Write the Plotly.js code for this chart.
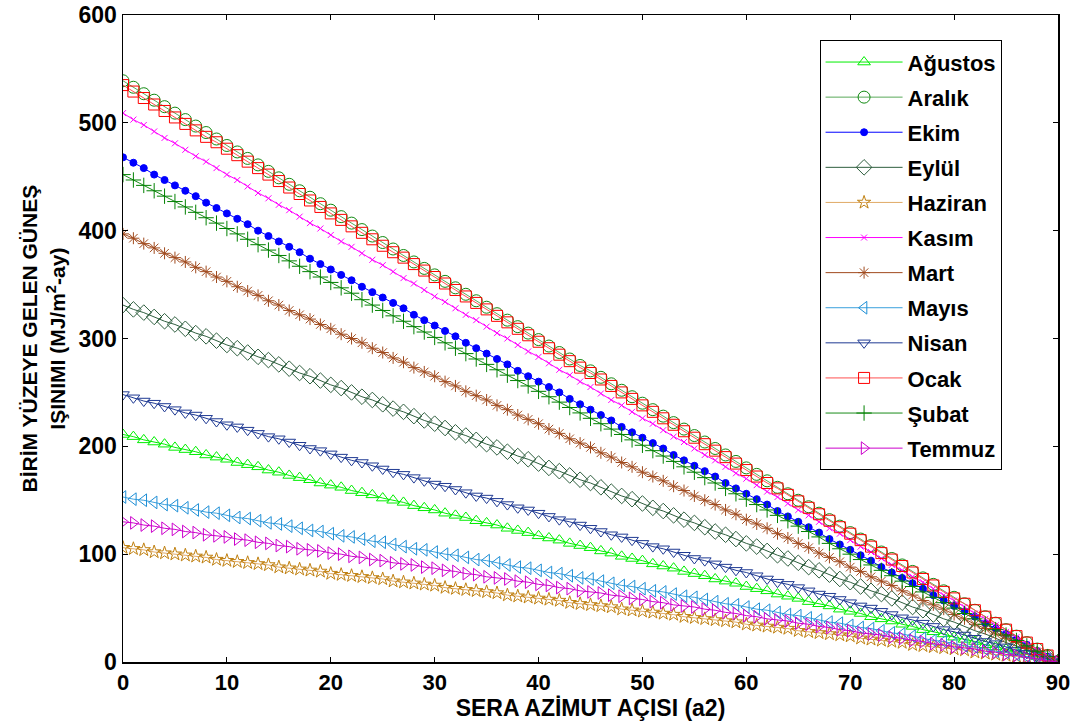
<!DOCTYPE html>
<html>
<head>
<meta charset="utf-8">
<script src="https://cdn.plot.ly/plotly-3.0.1.min.js"></script>
<style>html,body{margin:0;padding:0;background:#fff;}#chart{width:1089px;height:724px;}</style>
</head>
<body>
<div id="chart"></div>
<script>
// Sera azimut açısı (a2), derece
const azimut = [0,1,2,3,4,5,6,7,8,9,10,11,12,13,14,15,16,17,18,19,20,21,22,23,24,25,26,27,28,29,30,31,32,33,34,35,36,37,38,39,40,41,42,43,44,45,46,47,48,49,50,51,52,53,54,55,56,57,58,59,60,61,62,63,64,65,66,67,68,69,70,71,72,73,74,75,76,77,78,79,80,81,82,83,84,85,86,87,88,89,90];

const agustos = [211,209,206,204,202,199,197,195,192,190,188,185,183,181,178,176,173,171,169,166,164,162,159,157,155,152,150,148,145,143,141,138,136,134,131,129,127,124,122,120,117,115,113,110,108,106,103,101,98,96,94,91,89,87,84,82,80,77,75,73,70,68,66,63,61,59,56,54,52,49,47,45,42,40,38,35,33,30,28,26,23,21,19,16,14,12,9,7,5,2,0];
const aralik = [539,533,527,521,515,509,503,497,491,485,479,473,467,461,455,449,443,437,431,425,419,413,407,401,395,389,383,377,371,365,359,353,347,341,335,329,323,317,311,305,299,293,287,281,275,270,264,258,252,246,240,234,228,222,216,210,204,198,192,186,180,174,168,162,156,150,144,138,132,126,120,114,108,102,96,90,84,78,72,66,60,54,48,42,36,30,24,18,12,6,0];
const ekim = [468,463,458,452,447,442,437,432,426,421,416,411,406,400,395,390,385,380,374,369,364,359,354,348,343,338,333,328,322,317,312,307,302,296,291,286,281,276,270,265,260,255,250,244,239,234,229,224,218,213,208,203,198,192,187,182,177,172,166,161,156,151,146,140,135,130,125,120,114,109,104,99,94,88,83,78,73,68,62,57,52,47,42,36,31,26,21,16,10,5,0];
const eylul = [331,327,324,320,316,313,309,305,302,298,294,291,287,283,280,276,272,268,265,261,257,254,250,246,243,239,235,232,228,224,221,217,213,210,206,202,199,195,191,188,184,180,177,173,169,166,162,158,154,151,147,143,140,136,132,129,125,121,118,114,110,107,103,99,96,92,88,85,81,77,74,70,66,63,59,55,51,48,44,40,37,33,29,26,22,18,15,11,7,4,0];
const haziran = [106,105,104,102,101,100,99,98,97,95,94,93,92,91,90,88,87,86,85,84,82,81,80,79,78,77,75,74,73,72,71,69,68,67,66,65,64,62,61,60,59,58,57,55,54,53,52,51,49,48,47,46,45,44,42,41,40,39,38,37,35,34,33,32,31,29,28,27,26,25,24,22,21,20,19,18,16,15,14,13,12,11,9,8,7,6,5,4,2,1,0];
const kasim = [509,503,498,492,486,481,475,469,464,458,452,447,441,435,430,424,419,413,407,402,396,390,385,379,373,368,362,356,351,345,339,334,328,322,317,311,305,300,294,288,283,277,271,266,260,255,249,243,238,232,226,221,215,209,204,198,192,187,181,175,170,164,158,153,147,141,136,130,124,119,113,107,102,96,90,85,79,74,68,62,57,51,45,40,34,28,23,17,11,6,0];
const mart = [397,393,388,384,379,375,371,366,362,357,353,348,344,340,335,331,326,322,318,313,309,304,300,296,291,287,282,278,273,269,265,260,256,251,247,243,238,234,229,225,221,216,212,207,203,199,194,190,185,181,176,172,168,163,159,154,150,146,141,137,132,128,124,119,115,110,106,101,97,93,88,84,79,75,71,66,62,57,53,49,44,40,35,31,26,22,18,13,9,4,0];
const mayis = [153,151,150,148,146,145,143,141,139,138,136,134,133,131,129,128,126,124,122,121,119,117,116,114,112,111,109,107,105,104,102,100,99,97,95,94,92,90,88,87,85,83,82,80,78,77,75,73,71,70,68,66,65,63,61,60,58,56,54,53,51,49,48,46,44,43,41,39,37,36,34,32,31,29,27,26,24,22,20,19,17,15,14,12,10,9,7,5,3,2,0];
const nisan = [248,245,242,240,237,234,231,229,226,223,220,218,215,212,209,207,204,201,198,196,193,190,187,185,182,179,176,174,171,168,165,163,160,157,154,152,149,146,143,141,138,135,132,130,127,124,121,118,116,113,110,107,105,102,99,96,94,91,88,85,83,80,77,74,72,69,66,63,61,58,55,52,50,47,44,41,39,36,33,30,28,25,22,19,17,14,11,8,6,3,0];
const ocak = [535,529,523,517,511,505,499,493,487,482,476,470,464,458,452,446,440,434,428,422,416,410,404,398,392,386,380,375,369,363,357,351,345,339,333,327,321,315,309,303,297,291,285,279,273,268,262,256,250,244,238,232,226,220,214,208,202,196,190,184,178,172,166,161,155,149,143,137,131,125,119,113,107,101,95,89,83,77,71,65,59,54,48,42,36,30,24,18,12,6,0];
const subat = [452,447,442,437,432,427,422,417,412,407,402,397,392,387,382,377,372,367,362,357,352,347,342,336,331,326,321,316,311,306,301,296,291,286,281,276,271,266,261,256,251,246,241,236,231,226,221,216,211,206,201,196,191,186,181,176,171,166,161,156,151,146,141,136,131,126,121,116,110,105,100,95,90,85,80,75,70,65,60,55,50,45,40,35,30,25,20,15,10,5,0];
const temmuz = [130,129,127,126,124,123,121,120,118,117,116,114,113,111,110,108,107,105,104,103,101,100,98,97,95,94,92,91,90,88,87,85,84,82,81,79,78,77,75,74,72,71,69,68,66,65,64,62,61,59,58,56,55,53,52,51,49,48,46,45,43,42,40,39,38,36,35,33,32,30,29,27,26,25,23,22,20,19,17,16,14,13,12,10,9,7,6,4,3,1,0];

const xTickVals = [0,10,20,30,40,50,60,70,80,90];
const yTickVals = [0,100,200,300,400,500,600];
const xTitle = 'SERA AZİMUT AÇISI (a2)';
const yTitle = 'BİRİM YÜZEYE GELEN GÜNEŞ<br>IŞINIMI (MJ/m<sup>2</sup>-ay)';

const seriesDefs = [
  {name:'Ağustos', y:agustos, color:'#00ee00', lineColor:'#00ee00', symbol:'triangle-up-open', size:11},
  {name:'Aralık',  y:aralik,  color:'#108a10', lineColor:'#5aaa5a', symbol:'circle-open', size:12},
  {name:'Ekim',    y:ekim,    color:'#0000ff', lineColor:'#0000ff', symbol:'circle', size:7},
  {name:'Eylül',   y:eylul,   color:'#2e5e3e', lineColor:'#2e5e3e', symbol:'diamond-open', size:12},
  {name:'Haziran', y:haziran, color:'#c08010', lineColor:'#e0aa66', symbol:'star-open', size:10},
  {name:'Kasım',   y:kasim,   color:'#ff00ff', lineColor:'#ff00ff', symbol:'x-thin-open', size:6},
  {name:'Mart',    y:mart,    color:'#a04a1e', lineColor:'#a04a1e', symbol:'asterisk-open', size:10},
  {name:'Mayıs',   y:mayis,   color:'#1e8fd6', lineColor:'#3aa0dd', symbol:'triangle-left-open', size:11},
  {name:'Nisan',   y:nisan,   color:'#1f3a93', lineColor:'#1f3a93', symbol:'triangle-down-open', size:11},
  {name:'Ocak',    y:ocak,    color:'#ff0000', lineColor:'#ff5050', symbol:'square-open', size:11},
  {name:'Şubat',   y:subat,   color:'#008000', lineColor:'#1a8c1a', symbol:'cross-thin-open', size:11},
  {name:'Temmuz',  y:temmuz,  color:'#cc00cc', lineColor:'#cc00cc', symbol:'triangle-right-open', size:11}
];

const traces = seriesDefs.map((s, i) => ({
  type:'scatter', mode:'lines+markers', name:s.name, x:azimut, y:s.y,
  legendgroup:'g'+i,
  line:{color:s.lineColor, width:1},
  marker:{symbol:s.symbol, size:s.size, color:s.color, line:{color:s.color, width:1}}
}));

const fam = '"Liberation Sans", Arial, sans-serif';

const layout = {
  width:1089, height:724,
  margin:{l:123, r:31, t:15, b:62},
  paper_bgcolor:'#fff', plot_bgcolor:'#fff',
  showlegend:true,
  legend:{
    x:0.745, y:0.961, xanchor:'left', yanchor:'top',
    bgcolor:'#fff', bordercolor:'#000', borderwidth:1,
    font:{family:fam, size:22, color:'#000', weight:'bold'},
    tracegroupgap:3.5, itemwidth:77
  },
  xaxis:{
    range:[0,90], tickmode:'array', tickvals:xTickVals, ticktext:xTickVals.map(String),
    ticks:'inside', ticklen:5, tickcolor:'#000', mirror:'ticks',
    showline:true, linecolor:'#000', linewidth:1.5, showgrid:false, zeroline:false,
    tickfont:{family:fam, size:22, color:'#000', weight:'bold'},
    title:{text:xTitle, font:{family:fam, size:23, color:'#000', weight:'bold'}, standoff:3}
  },
  yaxis:{
    range:[0,600], tickmode:'array', tickvals:yTickVals, ticktext:yTickVals.map(String),
    ticks:'inside', ticklen:5, tickcolor:'#000', mirror:'ticks',
    showline:true, linecolor:'#000', linewidth:1.5, showgrid:false, zeroline:false,
    tickfont:{family:fam, size:23, color:'#000', weight:'bold'}
  },
  annotations:[{
    text:yTitle, xref:'paper', yref:'paper', x:-0.0856, y:0.5,
    xanchor:'center', yanchor:'middle', textangle:-90, showarrow:false,
    font:{family:fam, size:21, color:'#000', weight:'bold'}
  }]
};

Plotly.newPlot('chart', traces, layout, {displayModeBar:false, staticPlot:true});
</script>
</body>
</html>
